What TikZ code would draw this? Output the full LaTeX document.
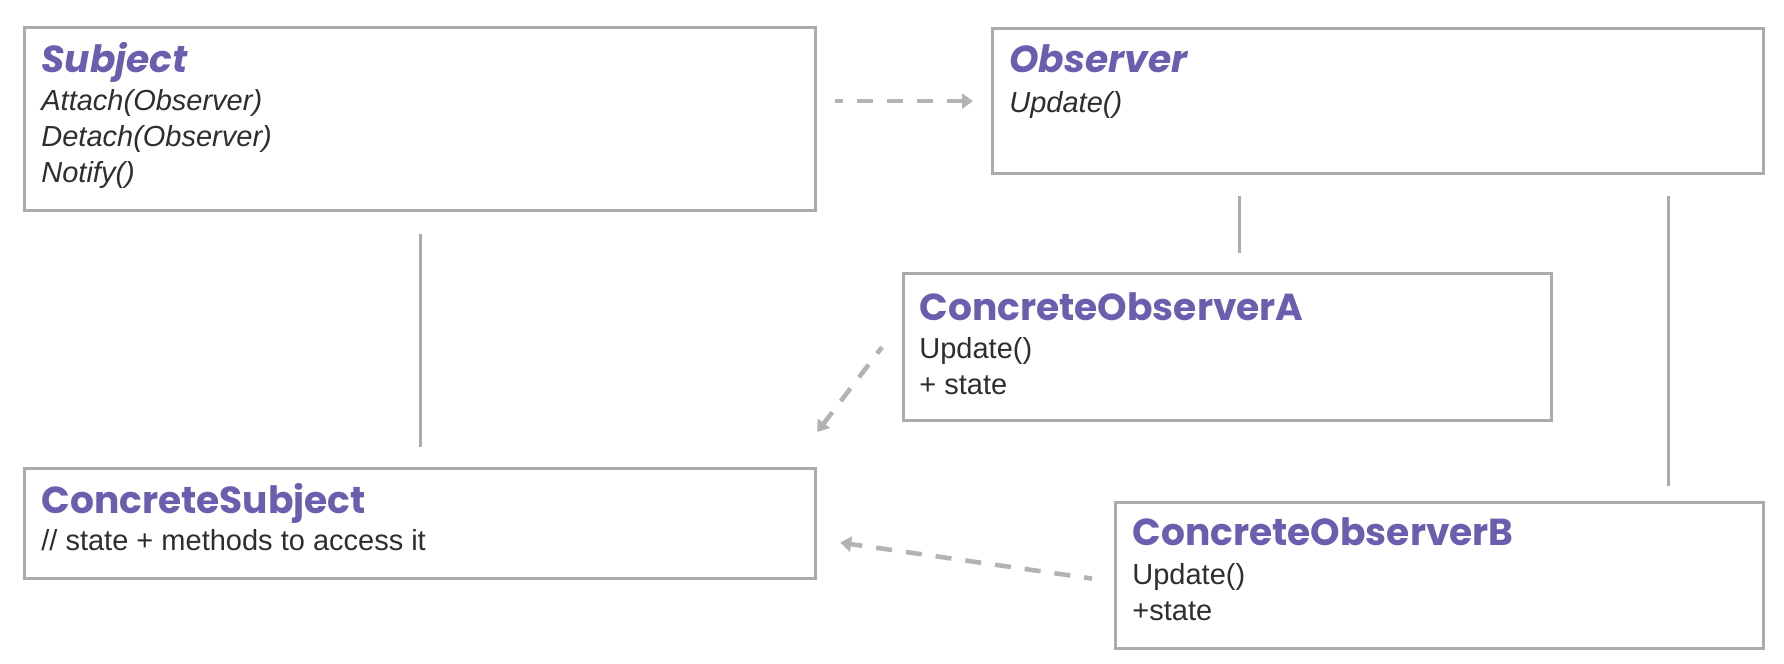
\documentclass[tikz,border=0pt]{standalone}
\usepackage{fontspec}
\setmainfont{Liberation Sans}
\newfontfamily\titlefont{Poppins}
\usepackage{tikz}
\usetikzlibrary{positioning,calc,arrows.meta}
\definecolor{umlpurple}{HTML}{6A5FAF}
\definecolor{boxgray}{HTML}{ABABAB}
\definecolor{textgray}{HTML}{2E2E2E}
\tikzset{class box/.style={draw=boxgray, line width=1.6pt, rectangle, anchor=north west, inner sep=0pt}}
\tikzset{class title/.style={anchor=base west, inner sep=0pt, text=umlpurple, font={\titlefont\fontsize{18.8}{22}\selectfont\bfseries}}}
\tikzset{class body/.style={anchor=base west, inner sep=0pt, align=left, text=textgray, font={\fontsize{14.5}{18}\selectfont}}}
\tikzset{association/.style={draw=boxgray, line width=1.5pt}}
\tikzset{dependency/.style={draw=boxgray!90, line width=2.3pt, dash pattern=on 8pt off 7pt, dash phase=4pt, -{Triangle[length=5.5pt,width=7.5pt]}}}

\begin{document}
\begin{tikzpicture}[x=0.5pt, y=-0.5pt]
\useasboundingbox (0,0) rectangle (1784,664);
% boxes
\node[class box, minimum width=395.5pt, minimum height=91.5pt] (subj) at (23,26) {};
\node[class box, minimum width=385.5pt, minimum height=72.5pt] (obs) at (991,27) {};
\node[class box, minimum width=324pt, minimum height=73.5pt] (obsA) at (902,272) {};
\node[class box, minimum width=395.5pt, minimum height=55pt] (csubj) at (23,467) {};
\node[class box, minimum width=324pt, minimum height=73pt] (obsB) at (1114,501) {};
% texts (body nodes sit on the baseline of their last line)
\node[class title] (subjname) at ([xshift=9pt,yshift=-23pt]subj.north west) {\itshape Subject};
\node[class body] (subjops) at ([xshift=9pt,yshift=-78pt]subj.north west) {\itshape Attach(Observer)\\\itshape Detach(Observer)\\\itshape Notify()};
\node[class title] (obsname) at ([xshift=9pt,yshift=-22.5pt]obs.north west) {\itshape Observer};
\node[class body] (obsops) at ([xshift=9pt,yshift=-42.5pt]obs.north west) {\itshape Update()};
\node[class title] (obsAname) at ([xshift=8.5pt,yshift=-24pt]obsA.north west) {ConcreteObserverA};
\node[class body] (obsAops) at ([xshift=8.5pt,yshift=-61pt]obsA.north west) {Update()\\+ state};
\node[class title] (csubjname) at ([xshift=9pt,yshift=-23pt]csubj.north west) {ConcreteSubject};
\node[class body] (csubjops) at ([xshift=9pt,yshift=-41.5pt]csubj.north west) {// state + methods to access it};
\node[class title] (obsBname) at ([xshift=9pt,yshift=-22pt]obsB.north west) {ConcreteObserverB};
\node[class body] (obsBops) at ([xshift=9pt,yshift=-59.5pt]obsB.north west) {Update()\\+state};
% connectors
\draw[association] ([yshift=-11pt]subj.south) -- ([yshift=10pt]csubj.north);
\draw[association] ([xshift=6pt,yshift=-10.5pt]obs.south -| obsA.north) -- ([xshift=6pt,yshift=9.5pt]obsA.north);
\draw[association] ([xshift=-48.5pt,yshift=-10.5pt]obs.south east) -- ([xshift=-48.5pt,yshift=7.5pt]obsB.north east);
\draw[dependency] ([xshift=9pt]obs.west -| subj.east) -- ([xshift=-9pt]obs.west);
\draw[dependency] ([xshift=-10pt]obsA.west) -- ([yshift=17.5pt]csubj.north east);
\draw[dependency] ([xshift=-11pt,yshift=-1.5pt]obsB.west) -- ([xshift=11.5pt,yshift=-9.5pt]csubj.east);
\end{tikzpicture}
\end{document}
